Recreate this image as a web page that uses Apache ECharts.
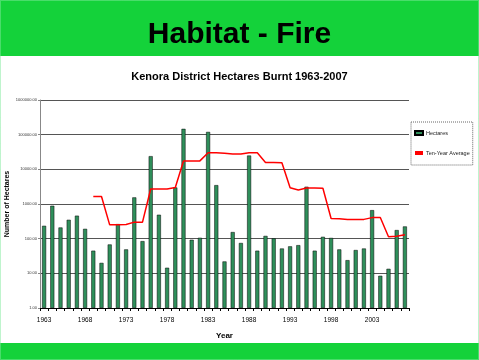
<!DOCTYPE html>
<html><head><meta charset="utf-8">
<script src="https://cdn.jsdelivr.net/npm/echarts@6/dist/echarts.min.js"></script>
<style>html,body{margin:0;padding:0;background:#fff}#c{width:479px;height:360px}</style>
</head><body><div id="c"></div>
<script>
const years = [];
for (let y = 1963; y <= 2007; y++) years.push(String(y));
const hectares = [235, 890, 210, 350, 460, 192, 45, 20, 68, 263,
  49, 1550, 85, 24000, 490, 14.5, 3000, 147000, 93, 106,
  120000, 3500, 22, 155, 75, 25000, 45, 120, 102, 52,
  60, 65, 3150, 45, 113, 105, 49, 24, 47, 52,
  665, 8.5, 13.5, 177, 225];
const tenYearAvg = [null, null, null, null, null, null, 1650, 1650, 250, 250,
  255, 300, 300, 2700, 2700, 2700, 3000, 17300, 17300, 17500,
  30000, 30000, 29000, 27500, 27500, 30000, 30000, 15700, 15700, 15500,
  2930, 2550, 2900, 2900, 2850, 380, 375, 355, 355, 360,
  405, 410, 113, 118, 130];
const yTicks = ['1.00','10.00','100.00','1000.00','10000.00','100000.00','1000000.00'];

const chart = echarts.init(document.getElementById('c'), null, {renderer: 'canvas'});
const FONT = '"Liberation Sans", Arial, sans-serif';
chart.setOption({
  animation: false,
  backgroundColor: '#fff',
  graphic: [
    {type: 'rect', shape: {x: 0, y: 0, width: 479, height: 56}, style: {fill: '#14d23a'}},
    {type: 'rect', shape: {x: 0, y: 343, width: 479, height: 17}, style: {fill: '#14d23a'}},
    {type: 'rect', shape: {x: 0.5, y: 0.5, width: 478, height: 359}, style: {fill: 'none', stroke: '#7ee89a', lineWidth: 1, lineDash: [1, 1]}},
    {type: 'text', left: 'center', top: 20, style: {text: 'Habitat - Fire', font: 'bold 30px ' + FONT, fill: '#000'}}
  ],
  title: {
    text: 'Kenora District Hectares Burnt 1963-2007',
    left: 'center', top: 66,
    textStyle: {fontFamily: FONT, fontSize: 11, fontWeight: 'bold', color: '#000'}
  },
  legend: {
    orient: 'vertical', left: 411, top: 122,
    padding: [8, 3, 9, 3], itemGap: 14,
    borderColor: '#666', borderWidth: 1, borderType: 'dotted',
    itemWidth: 8, itemHeight: 4,
    textStyle: {fontFamily: FONT, fontSize: 5.5, color: '#222', padding: [0, 0, 0, -2]},
    data: [
      {name: 'Hectares', icon: 'rect'},
      {name: 'Ten-Year Average', icon: 'rect', itemStyle: {color: '#ff0000'}}
    ]
  },
  grid: {left: 40, right: 70, top: 100, bottom: 52, containLabel: false, outerBoundsMode: 'none'},
  xAxis: {
    type: 'category', data: years, boundaryGap: true,
    name: 'Year', nameLocation: 'middle', nameGap: 24, nameMoveOverlap: false,
    nameTextStyle: {fontFamily: FONT, fontSize: 8, fontWeight: 'bold', color: '#000'},
    axisLine: {lineStyle: {color: '#000', width: 1}},
    axisTick: {show: true, interval: 0, length: 3, lineStyle: {color: '#000'}},
    axisLabel: {interval: 4, fontFamily: FONT, fontSize: 6.5, color: '#000', margin: 9}
  },
  yAxis: {
    type: 'log', logBase: 10, min: 1, max: 1000000,
    name: 'Number of Hectares', nameLocation: 'middle', nameGap: 29, nameRotate: 90, nameMoveOverlap: false,
    nameTextStyle: {fontFamily: FONT, fontSize: 7, fontWeight: 'bold', color: '#000'},
    axisLine: {show: true, lineStyle: {color: '#888'}},
    axisTick: {show: true, length: 2, lineStyle: {color: '#888'}},
    axisLabel: {fontFamily: FONT, fontSize: 4, color: '#333', margin: 3,
      formatter: function (v) { const i = Math.round(Math.log10(v)); return yTicks[i] || ''; }},
    splitLine: {show: true, lineStyle: {color: '#555', width: 1}},
    minorTick: {show: false}
  },
  series: [
    {
      name: 'Hectares', type: 'bar', data: hectares, barWidth: 4,
      itemStyle: {color: '#2f8f5b', borderColor: '#000', borderWidth: 0.5}
    },
    {
      name: 'Ten-Year Average', type: 'line', data: tenYearAvg,
      showSymbol: false, symbol: 'none', connectNulls: false,
      lineStyle: {color: '#ff0000', width: 1.5}, itemStyle: {color: '#ff0000'}
    }
  ]
});
</script></body></html>
